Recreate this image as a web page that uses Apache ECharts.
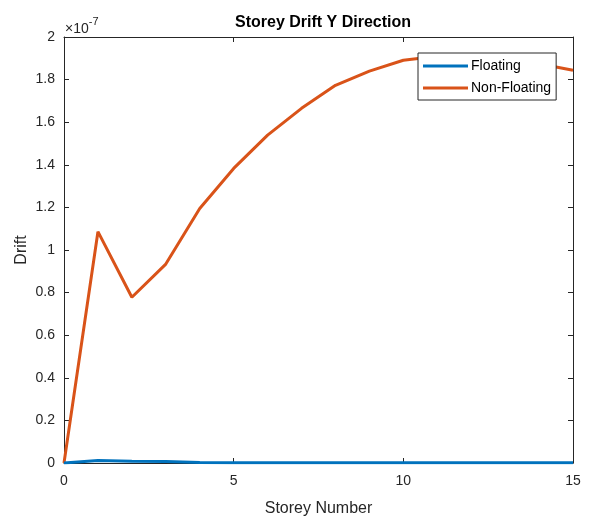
<!DOCTYPE html>
<html>
<head>
<meta charset="utf-8">
<script src="https://cdn.jsdelivr.net/npm/echarts@6/dist/echarts.min.js"></script>
<style>
html,body{margin:0;padding:0;background:#fff;}
#chart{width:590px;height:518px;}
</style>
</head>
<body>
<div id="chart"></div>
<script>
// Storey numbers (x) and drift values in units of 1e-7
const storeys = [0,1,2,3,4,5,6,7,8,9,10,11,12,13,14,15];
const floating = [0,0.012,0.008,0.007,0.002,0.001,0.001,0.001,0.001,0.001,0.001,0.001,0.001,0.001,0.001,0.001];
const nonFloating = [0,1.086,0.778,0.934,1.195,1.383,1.539,1.665,1.773,1.840,1.891,1.910,1.905,1.892,1.874,1.844];
const xTicks = [0,5,10,15];
const yTickLabels = ['0','0.2','0.4','0.6','0.8','1','1.2','1.4','1.6','1.8','2'];

const FONT = 'Liberation Sans, Arial, Helvetica, sans-serif';
const TXT = '#262626';

const chart = echarts.init(document.getElementById('chart'), null, {renderer:'canvas'});
const toPairs = (ys) => storeys.map((x,i)=>[x, ys[i]]);

const grid = {left:64, right:17, top:37, bottom:55, containLabel:false, outerBoundsMode:'none'};
const axisLine = {show:true, onZero:false, lineStyle:{color:TXT, width:1}};
const tick = {show:true, inside:true, length:5, lineStyle:{color:TXT, width:1}};

chart.setOption({
  animation:false,
  backgroundColor:'#fff',
  title:{
    text:'Storey Drift Y Direction',
    left:318, top:10, textAlign:'center',
    textStyle:{fontFamily:FONT, fontSize:16, fontWeight:'bold', color:'#000'}
  },
  grid:grid,
  legend:{
    orient:'vertical',
    left:418, top:53,
    padding:[6,5,5,5],
    itemGap:8,
    itemWidth:45, itemHeight:3,
    icon:'rect',
    backgroundColor:'#fff',
    borderColor:TXT, borderWidth:1,
    textStyle:{fontFamily:FONT, fontSize:14, color:'#000', padding:[0,0,0,-2]},
    data:['Floating','Non-Floating']
  },
  xAxis:[{
    type:'value', min:0, max:15, interval:5,
    name:'Storey Number', nameLocation:'middle', nameGap:38, nameMoveOverlap:false,
    nameTextStyle:{fontFamily:FONT, fontSize:16, color:TXT},
    axisLine:axisLine, axisTick:tick, splitLine:{show:false},
    axisLabel:{fontFamily:FONT, fontSize:14, color:TXT, margin:11,
      formatter:(v)=> xTicks.includes(v) ? String(v) : ''}
  },{
    type:'value', min:0, max:15, interval:5, position:'top',
    axisLine:axisLine, axisTick:tick, axisLabel:{show:false}, splitLine:{show:false}
  }],
  yAxis:[{
    type:'value', min:0, max:2, interval:0.2,
    name:'Drift', nameLocation:'middle', nameGap:34, nameRotate:90, nameMoveOverlap:false,
    nameTextStyle:{fontFamily:FONT, fontSize:16, color:TXT},
    axisLine:axisLine, axisTick:tick, splitLine:{show:false},
    axisLabel:{fontFamily:FONT, fontSize:14, color:TXT, margin:9,
      formatter:(v)=>{ const i=Math.round(v/0.2); return yTickLabels[i]!==undefined?yTickLabels[i]:''; }}
  },{
    type:'value', min:0, max:2, interval:0.2, position:'right',
    axisLine:axisLine, axisTick:tick, axisLabel:{show:false}, splitLine:{show:false}
  }],
  graphic:[{
    type:'text', left:65, top:16,
    style:{
      text:'{a|×10}{b|-7}',
      rich:{
        a:{fontFamily:FONT, fontSize:14, fill:TXT, padding:[6,0,0,0]},
        b:{fontFamily:FONT, fontSize:11, fill:TXT, verticalAlign:'top', padding:[0,0,6,0]}
      }
    }
  }],
  series:[{
    name:'Floating', type:'line', data:toPairs(floating),
    symbol:'none', lineStyle:{color:'#0072BD', width:3}, itemStyle:{color:'#0072BD'}, z:3
  },{
    name:'Non-Floating', type:'line', data:toPairs(nonFloating),
    symbol:'none', lineStyle:{color:'#D95319', width:3}, itemStyle:{color:'#D95319'}, z:2
  }]
});
</script>
</body>
</html>
